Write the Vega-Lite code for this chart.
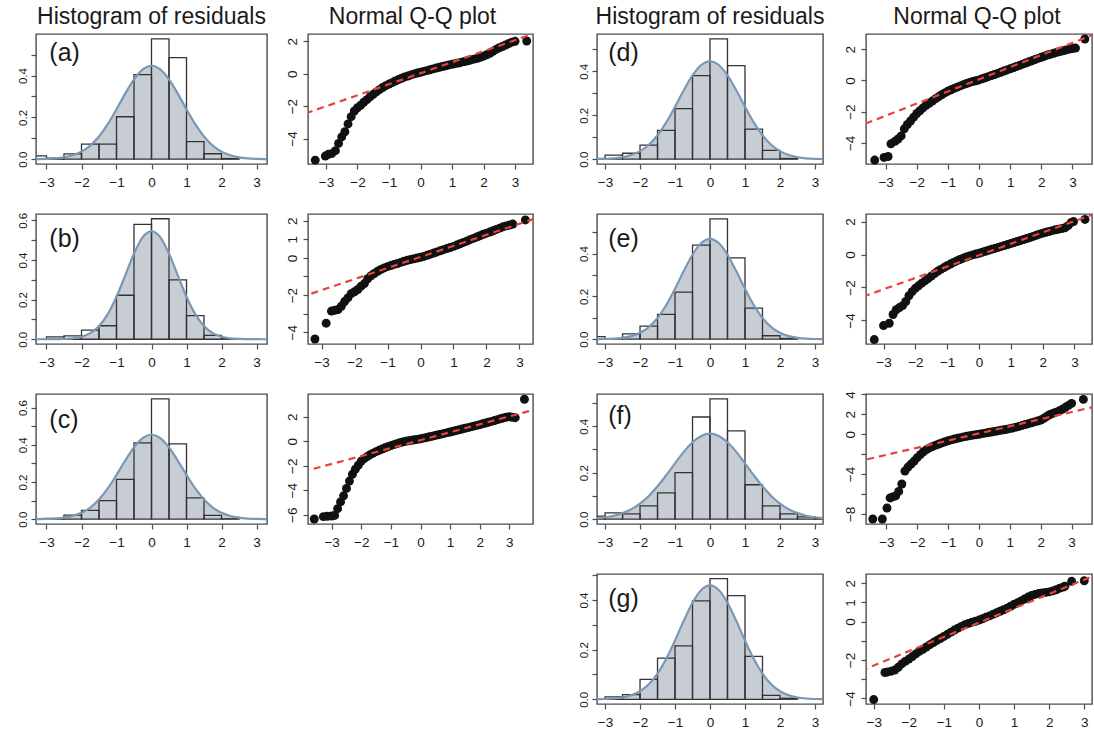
{
"$schema": "https://vega.github.io/schema/vega-lite/v6.json",
"background": "white",
"padding": {"left": 15, "top": 5, "right": 0, "bottom": 0},
"spacing": 10,
"datasets": {
"ca": [{"x":-3.5,"y":0.0002},{"x":-3.25,"y":0.0006},{"x":-3,"y":0.0016},{"x":-2.75,"y":0.0039},{"x":-2.5,"y":0.0088},{"x":-2.25,"y":0.0186},{"x":-2,"y":0.0362},{"x":-1.75,"y":0.0653},{"x":-1.5,"y":0.1087},{"x":-1.25,"y":0.1674},{"x":-1,"y":0.2385},{"x":-0.75,"y":0.3139},{"x":-0.5,"y":0.382},{"x":-0.25,"y":0.4298},{"x":0,"y":0.447},{"x":0.25,"y":0.4298},{"x":0.5,"y":0.382},{"x":0.75,"y":0.3139},{"x":1,"y":0.2385},{"x":1.25,"y":0.1674},{"x":1.5,"y":0.1087},{"x":1.75,"y":0.0653},{"x":2,"y":0.0362},{"x":2.25,"y":0.0186},{"x":2.5,"y":0.0088},{"x":2.75,"y":0.0039},{"x":3,"y":0.0016},{"x":3.25,"y":0.0006},{"x":3.5,"y":0.0002}],
"cb": [{"x":-3.5,"y":0},{"x":-3.25,"y":0},{"x":-3,"y":0.0001},{"x":-2.75,"y":0.0005},{"x":-2.5,"y":0.0016},{"x":-2.25,"y":0.0048},{"x":-2,"y":0.0129},{"x":-1.75,"y":0.0311},{"x":-1.5,"y":0.0665},{"x":-1.25,"y":0.1266},{"x":-1,"y":0.2142},{"x":-0.75,"y":0.3226},{"x":-0.5,"y":0.4321},{"x":-0.25,"y":0.515},{"x":0,"y":0.546},{"x":0.25,"y":0.515},{"x":0.5,"y":0.4321},{"x":0.75,"y":0.3226},{"x":1,"y":0.2142},{"x":1.25,"y":0.1266},{"x":1.5,"y":0.0665},{"x":1.75,"y":0.0311},{"x":2,"y":0.0129},{"x":2.25,"y":0.0048},{"x":2.5,"y":0.0016},{"x":2.75,"y":0.0005},{"x":3,"y":0.0001},{"x":3.25,"y":0},{"x":3.5,"y":0}],
"cc": [{"x":-3.5,"y":0.0002},{"x":-3.25,"y":0.0005},{"x":-3,"y":0.0013},{"x":-2.75,"y":0.0034},{"x":-2.5,"y":0.0079},{"x":-2.25,"y":0.0171},{"x":-2,"y":0.0341},{"x":-1.75,"y":0.0626},{"x":-1.5,"y":0.1058},{"x":-1.25,"y":0.1651},{"x":-1,"y":0.2377},{"x":-0.75,"y":0.3154},{"x":-0.5,"y":0.3862},{"x":-0.25,"y":0.436},{"x":0,"y":0.454},{"x":0.25,"y":0.436},{"x":0.5,"y":0.3862},{"x":0.75,"y":0.3154},{"x":1,"y":0.2377},{"x":1.25,"y":0.1651},{"x":1.5,"y":0.1058},{"x":1.75,"y":0.0626},{"x":2,"y":0.0341},{"x":2.25,"y":0.0171},{"x":2.5,"y":0.0079},{"x":2.75,"y":0.0034},{"x":3,"y":0.0013},{"x":3.25,"y":0.0005},{"x":3.5,"y":0.0002}],
"cd": [{"x":-3.5,"y":0.0002},{"x":-3.25,"y":0.0006},{"x":-3,"y":0.0016},{"x":-2.75,"y":0.0039},{"x":-2.5,"y":0.0089},{"x":-2.25,"y":0.0188},{"x":-2,"y":0.0365},{"x":-1.75,"y":0.0657},{"x":-1.5,"y":0.1091},{"x":-1.25,"y":0.1678},{"x":-1,"y":0.2386},{"x":-0.75,"y":0.3137},{"x":-0.5,"y":0.3814},{"x":-0.25,"y":0.4289},{"x":0,"y":0.446},{"x":0.25,"y":0.4289},{"x":0.5,"y":0.3814},{"x":0.75,"y":0.3137},{"x":1,"y":0.2386},{"x":1.25,"y":0.1678},{"x":1.5,"y":0.1091},{"x":1.75,"y":0.0657},{"x":2,"y":0.0365},{"x":2.25,"y":0.0188},{"x":2.5,"y":0.0089},{"x":2.75,"y":0.0039},{"x":3,"y":0.0016},{"x":3.25,"y":0.0006},{"x":3.5,"y":0.0002}],
"ce": [{"x":-3.5,"y":0.0001},{"x":-3.25,"y":0.0003},{"x":-3,"y":0.0009},{"x":-2.75,"y":0.0025},{"x":-2.5,"y":0.0063},{"x":-2.25,"y":0.0142},{"x":-2,"y":0.0296},{"x":-1.75,"y":0.0566},{"x":-1.5,"y":0.0992},{"x":-1.25,"y":0.1595},{"x":-1,"y":0.2352},{"x":-0.75,"y":0.3181},{"x":-0.5,"y":0.3947},{"x":-0.25,"y":0.4492},{"x":0,"y":0.469},{"x":0.25,"y":0.4492},{"x":0.5,"y":0.3947},{"x":0.75,"y":0.3181},{"x":1,"y":0.2352},{"x":1.25,"y":0.1595},{"x":1.5,"y":0.0992},{"x":1.75,"y":0.0566},{"x":2,"y":0.0296},{"x":2.25,"y":0.0142},{"x":2.5,"y":0.0063},{"x":2.75,"y":0.0025},{"x":3,"y":0.0009},{"x":3.25,"y":0.0003},{"x":3.5,"y":0.0001}],
"cf": [{"x":-3.5,"y":0.002},{"x":-3.25,"y":0.0041},{"x":-3,"y":0.008},{"x":-2.75,"y":0.0147},{"x":-2.5,"y":0.0258},{"x":-2.25,"y":0.0427},{"x":-2,"y":0.0671},{"x":-1.75,"y":0.1},{"x":-1.5,"y":0.1413},{"x":-1.25,"y":0.1893},{"x":-1,"y":0.2405},{"x":-0.75,"y":0.2897},{"x":-0.5,"y":0.3309},{"x":-0.25,"y":0.3584},{"x":0,"y":0.368},{"x":0.25,"y":0.3584},{"x":0.5,"y":0.3309},{"x":0.75,"y":0.2897},{"x":1,"y":0.2405},{"x":1.25,"y":0.1893},{"x":1.5,"y":0.1413},{"x":1.75,"y":0.1},{"x":2,"y":0.0671},{"x":2.25,"y":0.0427},{"x":2.5,"y":0.0258},{"x":2.75,"y":0.0147},{"x":3,"y":0.008},{"x":3.25,"y":0.0041},{"x":3.5,"y":0.002}],
"cg": [{"x":-3.5,"y":0.0001},{"x":-3.25,"y":0.0004},{"x":-3,"y":0.0012},{"x":-2.75,"y":0.0031},{"x":-2.5,"y":0.0073},{"x":-2.25,"y":0.0161},{"x":-2,"y":0.0325},{"x":-1.75,"y":0.0604},{"x":-1.5,"y":0.1035},{"x":-1.25,"y":0.1631},{"x":-1,"y":0.2368},{"x":-0.75,"y":0.3163},{"x":-0.5,"y":0.389},{"x":-0.25,"y":0.4404},{"x":0,"y":0.459},{"x":0.25,"y":0.4404},{"x":0.5,"y":0.389},{"x":0.75,"y":0.3163},{"x":1,"y":0.2368},{"x":1.25,"y":0.1631},{"x":1.5,"y":0.1035},{"x":1.75,"y":0.0604},{"x":2,"y":0.0325},{"x":2.25,"y":0.0161},{"x":2.5,"y":0.0073},{"x":2.75,"y":0.0031},{"x":3,"y":0.0012},{"x":3.25,"y":0.0004},{"x":3.5,"y":0.0001}],
"ha": [{"x":-3.5,"x2":-3,"y":0.016},{"x":-3,"x2":-2.5,"y":0.005},{"x":-2.5,"x2":-2,"y":0.025},{"x":-2,"x2":-1.5,"y":0.072},{"x":-1.5,"x2":-1,"y":0.072},{"x":-1,"x2":-0.5,"y":0.203},{"x":-0.5,"x2":0,"y":0.405},{"x":0,"x2":0.5,"y":0.576},{"x":0.5,"x2":1,"y":0.486},{"x":1,"x2":1.5,"y":0.084},{"x":1.5,"x2":2,"y":0.026},{"x":2,"x2":2.5,"y":0.003}],
"hb": [{"x":-3,"x2":-2.5,"y":0.012},{"x":-2.5,"x2":-2,"y":0.017},{"x":-2,"x2":-1.5,"y":0.046},{"x":-1.5,"x2":-1,"y":0.068},{"x":-1,"x2":-0.5,"y":0.222},{"x":-0.5,"x2":0,"y":0.58},{"x":0,"x2":0.5,"y":0.608},{"x":0.5,"x2":1,"y":0.3},{"x":1,"x2":1.5,"y":0.119},{"x":1.5,"x2":2,"y":0.02},{"x":2,"x2":2.5,"y":0.003}],
"hc": [{"x":-3.5,"x2":-3,"y":0.003},{"x":-3,"x2":-2.5,"y":0.004},{"x":-2.5,"x2":-2,"y":0.022},{"x":-2,"x2":-1.5,"y":0.047},{"x":-1.5,"x2":-1,"y":0.1},{"x":-1,"x2":-0.5,"y":0.214},{"x":-0.5,"x2":0,"y":0.41},{"x":0,"x2":0.5,"y":0.647},{"x":0.5,"x2":1,"y":0.405},{"x":1,"x2":1.5,"y":0.115},{"x":1.5,"x2":2,"y":0.02},{"x":2,"x2":2.5,"y":0.002}],
"hd": [{"x":-3.5,"x2":-3,"y":0.003},{"x":-3,"x2":-2.5,"y":0.018},{"x":-2.5,"x2":-2,"y":0.027},{"x":-2,"x2":-1.5,"y":0.064},{"x":-1.5,"x2":-1,"y":0.131},{"x":-1,"x2":-0.5,"y":0.23},{"x":-0.5,"x2":0,"y":0.38},{"x":0,"x2":0.5,"y":0.548},{"x":0.5,"x2":1,"y":0.426},{"x":1,"x2":1.5,"y":0.137},{"x":1.5,"x2":2,"y":0.04},{"x":2,"x2":2.5,"y":0.003}],
"he": [{"x":-3.5,"x2":-3,"y":0.012},{"x":-3,"x2":-2.5,"y":0.003},{"x":-2.5,"x2":-2,"y":0.025},{"x":-2,"x2":-1.5,"y":0.061},{"x":-1.5,"x2":-1,"y":0.116},{"x":-1,"x2":-0.5,"y":0.22},{"x":-0.5,"x2":0,"y":0.44},{"x":0,"x2":0.5,"y":0.5625},{"x":0.5,"x2":1,"y":0.38},{"x":1,"x2":1.5,"y":0.145},{"x":1.5,"x2":2,"y":0.016},{"x":2,"x2":2.5,"y":0.003}],
"hf": [{"x":-3.5,"x2":-3,"y":0.013},{"x":-3,"x2":-2.5,"y":0.027},{"x":-2.5,"x2":-2,"y":0.023},{"x":-2,"x2":-1.5,"y":0.057},{"x":-1.5,"x2":-1,"y":0.113},{"x":-1,"x2":-0.5,"y":0.2},{"x":-0.5,"x2":0,"y":0.44},{"x":0,"x2":0.5,"y":0.518},{"x":0.5,"x2":1,"y":0.38},{"x":1,"x2":1.5,"y":0.148},{"x":1.5,"x2":2,"y":0.057},{"x":2,"x2":2.5,"y":0.023},{"x":2.5,"x2":3,"y":0.01},{"x":3,"x2":3.5,"y":0.004}],
"hg": [{"x":-3,"x2":-2.5,"y":0.01},{"x":-2.5,"x2":-2,"y":0.019},{"x":-2,"x2":-1.5,"y":0.08},{"x":-1.5,"x2":-1,"y":0.166},{"x":-1,"x2":-0.5,"y":0.215},{"x":-0.5,"x2":0,"y":0.397},{"x":0,"x2":0.5,"y":0.486},{"x":0.5,"x2":1,"y":0.418},{"x":1,"x2":1.5,"y":0.173},{"x":1.5,"x2":2,"y":0.016},{"x":2,"x2":2.5,"y":0.004}],
"qa": [{"x":-3.34,"y":-5.33},{"x":-3.02,"y":-5.08},{"x":-2.92,"y":-4.97},{"x":-2.82,"y":-4.93},{"x":-2.7,"y":-4.75},{"x":-2.6,"y":-4.3},{"x":-2.5,"y":-3.9},{"x":-2.4,"y":-3.58},{"x":-2.3,"y":-3.1},{"x":-2.2,"y":-2.65},{"x":-2.1,"y":-2.3},{"x":-2.0,"y":-2.1},{"x":-1.9,"y":-1.95},{"x":-1.8,"y":-1.76},{"x":-1.7,"y":-1.6},{"x":-1.6,"y":-1.42},{"x":-1.5,"y":-1.27},{"x":-1.4,"y":-1.12},{"x":-1.3,"y":-0.98},{"x":-1.2,"y":-0.85},{"x":-1.1,"y":-0.74},{"x":-1.0,"y":-0.64},{"x":-0.9,"y":-0.55},{"x":-0.8,"y":-0.45},{"x":-0.7,"y":-0.36},{"x":-0.6,"y":-0.28},{"x":-0.5,"y":-0.2},{"x":-0.4,"y":-0.14},{"x":-0.3,"y":-0.07},{"x":-0.2,"y":-0.01},{"x":-0.1,"y":0.04},{"x":0,"y":0.09},{"x":0.1,"y":0.14},{"x":0.2,"y":0.19},{"x":0.3,"y":0.24},{"x":0.4,"y":0.3},{"x":0.5,"y":0.35},{"x":0.6,"y":0.4},{"x":0.7,"y":0.44},{"x":0.8,"y":0.49},{"x":0.9,"y":0.54},{"x":1.0,"y":0.58},{"x":1.1,"y":0.62},{"x":1.2,"y":0.66},{"x":1.3,"y":0.71},{"x":1.4,"y":0.75},{"x":1.5,"y":0.8},{"x":1.6,"y":0.85},{"x":1.7,"y":0.9},{"x":1.8,"y":0.95},{"x":1.9,"y":1.01},{"x":2.0,"y":1.08},{"x":2.1,"y":1.17},{"x":2.2,"y":1.26},{"x":2.3,"y":1.38},{"x":2.4,"y":1.5},{"x":2.5,"y":1.6},{"x":2.6,"y":1.68},{"x":2.7,"y":1.77},{"x":2.8,"y":1.86},{"x":2.9,"y":1.95},{"x":3.0,"y":2.0},{"x":3.37,"y":2.02}],
"qb": [{"x":-3.2,"y":-4.36},{"x":-2.86,"y":-3.51},{"x":-2.7,"y":-2.86},{"x":-2.6,"y":-2.82},{"x":-2.5,"y":-2.78},{"x":-2.4,"y":-2.6},{"x":-2.3,"y":-2.35},{"x":-2.2,"y":-2.15},{"x":-2.1,"y":-1.92},{"x":-2.0,"y":-1.82},{"x":-1.9,"y":-1.7},{"x":-1.8,"y":-1.52},{"x":-1.7,"y":-1.38},{"x":-1.6,"y":-1.12},{"x":-1.5,"y":-0.96},{"x":-1.4,"y":-0.84},{"x":-1.3,"y":-0.72},{"x":-1.2,"y":-0.62},{"x":-1.1,"y":-0.54},{"x":-1.0,"y":-0.47},{"x":-0.9,"y":-0.41},{"x":-0.8,"y":-0.35},{"x":-0.7,"y":-0.3},{"x":-0.6,"y":-0.24},{"x":-0.5,"y":-0.18},{"x":-0.4,"y":-0.13},{"x":-0.3,"y":-0.09},{"x":-0.2,"y":-0.05},{"x":-0.1,"y":-0.01},{"x":0,"y":0.03},{"x":0.1,"y":0.08},{"x":0.2,"y":0.14},{"x":0.3,"y":0.2},{"x":0.4,"y":0.26},{"x":0.5,"y":0.32},{"x":0.6,"y":0.38},{"x":0.7,"y":0.44},{"x":0.8,"y":0.5},{"x":0.9,"y":0.56},{"x":1.0,"y":0.62},{"x":1.1,"y":0.69},{"x":1.2,"y":0.76},{"x":1.3,"y":0.83},{"x":1.4,"y":0.9},{"x":1.5,"y":0.98},{"x":1.6,"y":1.05},{"x":1.7,"y":1.12},{"x":1.8,"y":1.19},{"x":1.9,"y":1.27},{"x":2.0,"y":1.33},{"x":2.1,"y":1.39},{"x":2.2,"y":1.46},{"x":2.3,"y":1.53},{"x":2.4,"y":1.6},{"x":2.5,"y":1.67},{"x":2.6,"y":1.72},{"x":2.7,"y":1.77},{"x":2.8,"y":1.82},{"x":3.18,"y":2.04}],
"qc": [{"x":-3.59,"y":-6.34},{"x":-3.28,"y":-6.15},{"x":-3.15,"y":-6.12},{"x":-3.0,"y":-6.1},{"x":-2.9,"y":-6.05},{"x":-2.8,"y":-5.5},{"x":-2.7,"y":-4.95},{"x":-2.6,"y":-4.45},{"x":-2.5,"y":-3.85},{"x":-2.4,"y":-3.25},{"x":-2.3,"y":-2.7},{"x":-2.2,"y":-2.28},{"x":-2.1,"y":-1.95},{"x":-2.0,"y":-1.62},{"x":-1.9,"y":-1.42},{"x":-1.8,"y":-1.25},{"x":-1.7,"y":-1.1},{"x":-1.6,"y":-0.97},{"x":-1.5,"y":-0.85},{"x":-1.4,"y":-0.74},{"x":-1.3,"y":-0.64},{"x":-1.2,"y":-0.54},{"x":-1.1,"y":-0.45},{"x":-1.0,"y":-0.36},{"x":-0.9,"y":-0.28},{"x":-0.8,"y":-0.2},{"x":-0.7,"y":-0.13},{"x":-0.6,"y":-0.06},{"x":-0.5,"y":0.0},{"x":-0.4,"y":0.04},{"x":-0.3,"y":0.08},{"x":-0.2,"y":0.12},{"x":-0.1,"y":0.15},{"x":0,"y":0.2},{"x":0.1,"y":0.25},{"x":0.2,"y":0.3},{"x":0.3,"y":0.36},{"x":0.4,"y":0.41},{"x":0.5,"y":0.47},{"x":0.6,"y":0.53},{"x":0.7,"y":0.58},{"x":0.8,"y":0.64},{"x":0.9,"y":0.7},{"x":1.0,"y":0.75},{"x":1.1,"y":0.81},{"x":1.2,"y":0.87},{"x":1.3,"y":0.93},{"x":1.4,"y":0.99},{"x":1.5,"y":1.05},{"x":1.6,"y":1.11},{"x":1.7,"y":1.17},{"x":1.8,"y":1.23},{"x":1.9,"y":1.29},{"x":2.0,"y":1.35},{"x":2.1,"y":1.42},{"x":2.2,"y":1.48},{"x":2.3,"y":1.55},{"x":2.4,"y":1.62},{"x":2.5,"y":1.69},{"x":2.6,"y":1.76},{"x":2.7,"y":1.83},{"x":2.8,"y":1.9},{"x":2.9,"y":1.96},{"x":3.0,"y":2.0},{"x":3.1,"y":1.95},{"x":3.2,"y":1.92},{"x":3.51,"y":3.42}],
"qd": [{"x":-3.35,"y":-5.1},{"x":-3.05,"y":-4.93},{"x":-2.92,"y":-4.87},{"x":-2.83,"y":-4.06},{"x":-2.7,"y":-3.9},{"x":-2.6,"y":-3.75},{"x":-2.5,"y":-3.55},{"x":-2.4,"y":-3.1},{"x":-2.3,"y":-2.82},{"x":-2.2,"y":-2.6},{"x":-2.1,"y":-2.35},{"x":-2.0,"y":-2.12},{"x":-1.9,"y":-1.94},{"x":-1.8,"y":-1.76},{"x":-1.7,"y":-1.6},{"x":-1.6,"y":-1.46},{"x":-1.5,"y":-1.32},{"x":-1.4,"y":-1.18},{"x":-1.3,"y":-1.05},{"x":-1.2,"y":-0.92},{"x":-1.1,"y":-0.8},{"x":-1.0,"y":-0.69},{"x":-0.9,"y":-0.6},{"x":-0.8,"y":-0.51},{"x":-0.7,"y":-0.43},{"x":-0.6,"y":-0.35},{"x":-0.5,"y":-0.27},{"x":-0.4,"y":-0.2},{"x":-0.3,"y":-0.13},{"x":-0.2,"y":-0.07},{"x":-0.1,"y":-0.02},{"x":0,"y":0.03},{"x":0.1,"y":0.1},{"x":0.2,"y":0.17},{"x":0.3,"y":0.24},{"x":0.4,"y":0.31},{"x":0.5,"y":0.38},{"x":0.6,"y":0.45},{"x":0.7,"y":0.52},{"x":0.8,"y":0.6},{"x":0.9,"y":0.67},{"x":1.0,"y":0.74},{"x":1.1,"y":0.81},{"x":1.2,"y":0.89},{"x":1.3,"y":0.96},{"x":1.4,"y":1.04},{"x":1.5,"y":1.11},{"x":1.6,"y":1.19},{"x":1.7,"y":1.26},{"x":1.8,"y":1.34},{"x":1.9,"y":1.41},{"x":2.0,"y":1.48},{"x":2.1,"y":1.55},{"x":2.2,"y":1.62},{"x":2.3,"y":1.68},{"x":2.4,"y":1.74},{"x":2.5,"y":1.8},{"x":2.6,"y":1.85},{"x":2.7,"y":1.9},{"x":2.8,"y":1.95},{"x":2.9,"y":2.0},{"x":3.0,"y":2.04},{"x":3.1,"y":2.07},{"x":3.4,"y":2.65}],
"qe": [{"x":-3.29,"y":-5.16},{"x":-3.0,"y":-4.31},{"x":-2.82,"y":-4.17},{"x":-2.7,"y":-3.64},{"x":-2.6,"y":-3.35},{"x":-2.5,"y":-3.22},{"x":-2.4,"y":-3.1},{"x":-2.3,"y":-2.85},{"x":-2.2,"y":-2.5},{"x":-2.1,"y":-2.25},{"x":-2.0,"y":-2.05},{"x":-1.9,"y":-1.9},{"x":-1.8,"y":-1.74},{"x":-1.7,"y":-1.6},{"x":-1.6,"y":-1.46},{"x":-1.5,"y":-1.31},{"x":-1.4,"y":-1.16},{"x":-1.3,"y":-1.02},{"x":-1.2,"y":-0.9},{"x":-1.1,"y":-0.79},{"x":-1.0,"y":-0.68},{"x":-0.9,"y":-0.58},{"x":-0.8,"y":-0.48},{"x":-0.7,"y":-0.39},{"x":-0.6,"y":-0.3},{"x":-0.5,"y":-0.22},{"x":-0.4,"y":-0.15},{"x":-0.3,"y":-0.08},{"x":-0.2,"y":-0.02},{"x":-0.1,"y":0.03},{"x":0,"y":0.08},{"x":0.1,"y":0.14},{"x":0.2,"y":0.2},{"x":0.3,"y":0.26},{"x":0.4,"y":0.32},{"x":0.5,"y":0.37},{"x":0.6,"y":0.43},{"x":0.7,"y":0.49},{"x":0.8,"y":0.55},{"x":0.9,"y":0.61},{"x":1.0,"y":0.67},{"x":1.1,"y":0.73},{"x":1.2,"y":0.79},{"x":1.3,"y":0.85},{"x":1.4,"y":0.91},{"x":1.5,"y":0.97},{"x":1.6,"y":1.03},{"x":1.7,"y":1.1},{"x":1.8,"y":1.17},{"x":1.9,"y":1.24},{"x":2.0,"y":1.3},{"x":2.1,"y":1.35},{"x":2.2,"y":1.4},{"x":2.3,"y":1.45},{"x":2.4,"y":1.5},{"x":2.5,"y":1.54},{"x":2.6,"y":1.58},{"x":2.7,"y":1.62},{"x":2.8,"y":1.75},{"x":2.9,"y":1.95},{"x":2.97,"y":2.0},{"x":3.33,"y":2.13}],
"qf": [{"x":-3.44,"y":-8.52},{"x":-3.13,"y":-8.52},{"x":-2.98,"y":-7.41},{"x":-2.88,"y":-6.4},{"x":-2.8,"y":-6.3},{"x":-2.7,"y":-6.2},{"x":-2.6,"y":-5.75},{"x":-2.5,"y":-5.0},{"x":-2.4,"y":-3.7},{"x":-2.3,"y":-3.3},{"x":-2.2,"y":-3.0},{"x":-2.1,"y":-2.7},{"x":-2.0,"y":-2.35},{"x":-1.9,"y":-2.05},{"x":-1.8,"y":-1.76},{"x":-1.7,"y":-1.55},{"x":-1.6,"y":-1.38},{"x":-1.5,"y":-1.23},{"x":-1.4,"y":-1.1},{"x":-1.3,"y":-0.98},{"x":-1.2,"y":-0.87},{"x":-1.1,"y":-0.76},{"x":-1.0,"y":-0.66},{"x":-0.9,"y":-0.57},{"x":-0.8,"y":-0.49},{"x":-0.7,"y":-0.41},{"x":-0.6,"y":-0.34},{"x":-0.5,"y":-0.27},{"x":-0.4,"y":-0.21},{"x":-0.3,"y":-0.15},{"x":-0.2,"y":-0.1},{"x":-0.1,"y":-0.05},{"x":0,"y":0.0},{"x":0.1,"y":0.06},{"x":0.2,"y":0.11},{"x":0.3,"y":0.17},{"x":0.4,"y":0.22},{"x":0.5,"y":0.28},{"x":0.6,"y":0.33},{"x":0.7,"y":0.39},{"x":0.8,"y":0.44},{"x":0.9,"y":0.5},{"x":1.0,"y":0.56},{"x":1.1,"y":0.63},{"x":1.2,"y":0.71},{"x":1.3,"y":0.79},{"x":1.4,"y":0.88},{"x":1.5,"y":0.97},{"x":1.6,"y":1.06},{"x":1.7,"y":1.15},{"x":1.8,"y":1.24},{"x":1.9,"y":1.33},{"x":2.0,"y":1.43},{"x":2.1,"y":1.6},{"x":2.2,"y":1.8},{"x":2.3,"y":1.98},{"x":2.4,"y":2.1},{"x":2.5,"y":2.22},{"x":2.6,"y":2.35},{"x":2.7,"y":2.5},{"x":2.8,"y":2.7},{"x":2.9,"y":2.9},{"x":3.0,"y":3.1},{"x":3.38,"y":3.5}],
"qg": [{"x":-3.0,"y":-4.06},{"x":-2.68,"y":-2.65},{"x":-2.6,"y":-2.62},{"x":-2.5,"y":-2.58},{"x":-2.4,"y":-2.52},{"x":-2.3,"y":-2.38},{"x":-2.2,"y":-2.2},{"x":-2.1,"y":-2.07},{"x":-2.0,"y":-1.95},{"x":-1.9,"y":-1.82},{"x":-1.8,"y":-1.68},{"x":-1.7,"y":-1.55},{"x":-1.6,"y":-1.44},{"x":-1.5,"y":-1.32},{"x":-1.4,"y":-1.2},{"x":-1.3,"y":-1.09},{"x":-1.2,"y":-0.98},{"x":-1.1,"y":-0.88},{"x":-1.0,"y":-0.77},{"x":-0.9,"y":-0.66},{"x":-0.8,"y":-0.55},{"x":-0.7,"y":-0.44},{"x":-0.6,"y":-0.34},{"x":-0.5,"y":-0.25},{"x":-0.4,"y":-0.16},{"x":-0.3,"y":-0.09},{"x":-0.2,"y":-0.03},{"x":-0.1,"y":0.02},{"x":0,"y":0.08},{"x":0.1,"y":0.15},{"x":0.2,"y":0.23},{"x":0.3,"y":0.3},{"x":0.4,"y":0.38},{"x":0.5,"y":0.46},{"x":0.6,"y":0.54},{"x":0.7,"y":0.62},{"x":0.8,"y":0.7},{"x":0.9,"y":0.8},{"x":1.0,"y":0.9},{"x":1.1,"y":0.98},{"x":1.2,"y":1.08},{"x":1.3,"y":1.18},{"x":1.4,"y":1.28},{"x":1.5,"y":1.36},{"x":1.6,"y":1.42},{"x":1.7,"y":1.46},{"x":1.8,"y":1.49},{"x":1.9,"y":1.52},{"x":2.0,"y":1.55},{"x":2.1,"y":1.6},{"x":2.2,"y":1.66},{"x":2.3,"y":1.74},{"x":2.4,"y":1.8},{"x":2.45,"y":1.85},{"x":2.64,"y":2.1},{"x":3.0,"y":2.13}]
},
"hconcat": [
{"bounds": "flush", "spacing": 50, "vconcat": [
{"width": 231, "height": 130, "title": "Histogram of residuals",
"encoding": {"x": {"field": "x", "type": "quantitative", "scale": {"domain": [-3.3, 3.3], "nice": false, "zero": false}, "axis": {"title": null, "values": [-3,-2,-1,0,1,2,3]}},
"y": {"field": "y", "type": "quantitative", "scale": {"domain": [-0.023, 0.599], "nice": false, "zero": false}, "axis": {"title": null, "values": [0,0.1,0.2,0.3,0.4,0.5,0.6], "labelExpr": "round(datum.value*10)%2==0 ? format(datum.value,'.1f') : ''", "labelFontSize": 11.5, "labelPadding": 3, "minExtent": 20, "maxExtent": 20}}},
"layer": [
{"data": {"name": "ca"}, "mark": {"type": "area", "interpolate": "monotone", "color": "#c7ccd5", "clip": true}, "encoding": {"y2": {"datum": 0}}},
{"data": {"name": "ha"}, "mark": {"type": "rect", "fillOpacity": 0, "stroke": "#333333", "strokeWidth": 1.3, "clip": true}, "encoding": {"x2": {"field": "x2"}, "y2": {"datum": 0}}},
{"data": {"name": "ca"}, "mark": {"type": "line", "interpolate": "monotone", "color": "#7a98b6", "strokeWidth": 2.2, "clip": true}, "encoding": {}},
{"data": {"values": [{"x": -2.92, "y": 0.51, "t": "(a)"}]}, "mark": {"type": "text", "align": "left", "baseline": "middle", "fontSize": 25, "font": "Liberation Sans", "color": "#1a1a1a"}, "encoding": {"text": {"field": "t"}}}
]},
{"width": 231, "height": 130,
"encoding": {"x": {"field": "x", "type": "quantitative", "scale": {"domain": [-3.3, 3.3], "nice": false, "zero": false}, "axis": {"title": null, "values": [-3,-2,-1,0,1,2,3]}},
"y": {"field": "y", "type": "quantitative", "scale": {"domain": [-0.024, 0.632], "nice": false, "zero": false}, "axis": {"title": null, "values": [0,0.1,0.2,0.3,0.4,0.5,0.6], "labelExpr": "round(datum.value*10)%2==0 ? format(datum.value,'.1f') : ''", "labelFontSize": 11.5, "labelPadding": 3, "minExtent": 20, "maxExtent": 20}}},
"layer": [
{"data": {"name": "cb"}, "mark": {"type": "area", "interpolate": "monotone", "color": "#c7ccd5", "clip": true}, "encoding": {"y2": {"datum": 0}}},
{"data": {"name": "hb"}, "mark": {"type": "rect", "fillOpacity": 0, "stroke": "#333333", "strokeWidth": 1.3, "clip": true}, "encoding": {"x2": {"field": "x2"}, "y2": {"datum": 0}}},
{"data": {"name": "cb"}, "mark": {"type": "line", "interpolate": "monotone", "color": "#7a98b6", "strokeWidth": 2.2, "clip": true}, "encoding": {}},
{"data": {"values": [{"x": -2.92, "y": 0.507, "t": "(b)"}]}, "mark": {"type": "text", "align": "left", "baseline": "middle", "fontSize": 25, "font": "Liberation Sans", "color": "#1a1a1a"}, "encoding": {"text": {"field": "t"}}}
]},
{"width": 231, "height": 130,
"encoding": {"x": {"field": "x", "type": "quantitative", "scale": {"domain": [-3.3, 3.3], "nice": false, "zero": false}, "axis": {"title": null, "values": [-3,-2,-1,0,1,2,3]}},
"y": {"field": "y", "type": "quantitative", "scale": {"domain": [-0.026, 0.673], "nice": false, "zero": false}, "axis": {"title": null, "values": [0,0.1,0.2,0.3,0.4,0.5,0.6], "labelExpr": "round(datum.value*10)%2==0 ? format(datum.value,'.1f') : ''", "labelFontSize": 11.5, "labelPadding": 3, "minExtent": 20, "maxExtent": 20}}},
"layer": [
{"data": {"name": "cc"}, "mark": {"type": "area", "interpolate": "monotone", "color": "#c7ccd5", "clip": true}, "encoding": {"y2": {"datum": 0}}},
{"data": {"name": "hc"}, "mark": {"type": "rect", "fillOpacity": 0, "stroke": "#333333", "strokeWidth": 1.3, "clip": true}, "encoding": {"x2": {"field": "x2"}, "y2": {"datum": 0}}},
{"data": {"name": "cc"}, "mark": {"type": "line", "interpolate": "monotone", "color": "#7a98b6", "strokeWidth": 2.2, "clip": true}, "encoding": {}},
{"data": {"values": [{"x": -2.92, "y": 0.535, "t": "(c)"}]}, "mark": {"type": "text", "align": "left", "baseline": "middle", "fontSize": 25, "font": "Liberation Sans", "color": "#1a1a1a"}, "encoding": {"text": {"field": "t"}}}
]}
]},
{"bounds": "flush", "spacing": 50, "vconcat": [
{"width": 225, "height": 130, "title": {"text": "Normal Q-Q plot", "dx": -8},
"encoding": {"x": {"field": "x", "type": "quantitative", "scale": {"domain": [-3.57, 3.57], "nice": false, "zero": false}, "axis": {"title": null, "values": [-3,-2,-1,0,1,2,3]}},
"y": {"field": "y", "type": "quantitative", "scale": {"domain": [-5.57, 2.45], "nice": false, "zero": false}, "axis": {"title": null, "values": [-4,-2,0,2], "minExtent": 28.5, "maxExtent": 28.5}}},
"layer": [
{"data": {"name": "qa"}, "mark": {"type": "circle", "size": 80, "color": "#111111", "opacity": 1}},
{"data": {"values": [{"x": -4, "y": -2.69}, {"x": 4, "y": 2.75}]}, "mark": {"type": "line", "color": "#e8423c", "strokeDash": [7, 5], "strokeWidth": 2.2, "clip": true}, "encoding": {}}
]},
{"width": 225, "height": 130,
"encoding": {"x": {"field": "x", "type": "quantitative", "scale": {"domain": [-3.41, 3.41], "nice": false, "zero": false}, "axis": {"title": null, "values": [-3,-2,-1,0,1,2,3]}},
"y": {"field": "y", "type": "quantitative", "scale": {"domain": [-4.63, 2.36], "nice": false, "zero": false}, "axis": {"title": null, "values": [-4,-3,-2,-1,0,1,2], "labelExpr": "datum.value==-3 || datum.value==-1 ? '' : datum.label", "minExtent": 28.5, "maxExtent": 28.5}}},
"layer": [
{"data": {"name": "qb"}, "mark": {"type": "circle", "size": 80, "color": "#111111", "opacity": 1}},
{"data": {"values": [{"x": -4, "y": -2.33}, {"x": 4, "y": 2.43}]}, "mark": {"type": "line", "color": "#e8423c", "strokeDash": [7, 5], "strokeWidth": 2.2, "clip": true}, "encoding": {}}
]},
{"width": 225, "height": 130,
"encoding": {"x": {"field": "x", "type": "quantitative", "scale": {"domain": [-3.8, 3.8], "nice": false, "zero": false}, "axis": {"title": null, "values": [-3,-2,-1,0,1,2,3]}},
"y": {"field": "y", "type": "quantitative", "scale": {"domain": [-6.75, 3.85], "nice": false, "zero": false}, "axis": {"title": null, "values": [-6,-4,-2,0,2], "minExtent": 28.5, "maxExtent": 28.5}}},
"layer": [
{"data": {"name": "qc"}, "mark": {"type": "circle", "size": 80, "color": "#111111", "opacity": 1}},
{"data": {"values": [{"x": -4, "y": -2.5}, {"x": 4, "y": 2.67}]}, "mark": {"type": "line", "color": "#e8423c", "strokeDash": [7, 5], "strokeWidth": 2.2, "clip": true}, "encoding": {}}
]}
]},
{"bounds": "flush", "spacing": 50, "vconcat": [
{"width": 226, "height": 130, "title": "Histogram of residuals",
"encoding": {"x": {"field": "x", "type": "quantitative", "scale": {"domain": [-3.23, 3.23], "nice": false, "zero": false}, "axis": {"title": null, "values": [-3,-2,-1,0,1,2,3]}},
"y": {"field": "y", "type": "quantitative", "scale": {"domain": [-0.022, 0.57], "nice": false, "zero": false}, "axis": {"title": null, "values": [0,0.1,0.2,0.3,0.4,0.5], "labelExpr": "round(datum.value*10)%2==0 ? format(datum.value,'.1f') : ''", "labelFontSize": 11.5, "labelPadding": 3, "minExtent": 51.5, "maxExtent": 51.5}}},
"layer": [
{"data": {"name": "cd"}, "mark": {"type": "area", "interpolate": "monotone", "color": "#c7ccd5", "clip": true}, "encoding": {"y2": {"datum": 0}}},
{"data": {"name": "hd"}, "mark": {"type": "rect", "fillOpacity": 0, "stroke": "#333333", "strokeWidth": 1.3, "clip": true}, "encoding": {"x2": {"field": "x2"}, "y2": {"datum": 0}}},
{"data": {"name": "cd"}, "mark": {"type": "line", "interpolate": "monotone", "color": "#7a98b6", "strokeWidth": 2.2, "clip": true}, "encoding": {}},
{"data": {"values": [{"x": -2.91, "y": 0.484, "t": "(d)"}]}, "mark": {"type": "text", "align": "left", "baseline": "middle", "fontSize": 25, "font": "Liberation Sans", "color": "#1a1a1a"}, "encoding": {"text": {"field": "t"}}}
]},
{"width": 226, "height": 130,
"encoding": {"x": {"field": "x", "type": "quantitative", "scale": {"domain": [-3.23, 3.23], "nice": false, "zero": false}, "axis": {"title": null, "values": [-3,-2,-1,0,1,2,3]}},
"y": {"field": "y", "type": "quantitative", "scale": {"domain": [-0.0225, 0.585], "nice": false, "zero": false}, "axis": {"title": null, "values": [0,0.1,0.2,0.3,0.4,0.5], "labelExpr": "round(datum.value*10)%2==0 ? format(datum.value,'.1f') : ''", "labelFontSize": 11.5, "labelPadding": 3, "minExtent": 51.5, "maxExtent": 51.5}}},
"layer": [
{"data": {"name": "ce"}, "mark": {"type": "area", "interpolate": "monotone", "color": "#c7ccd5", "clip": true}, "encoding": {"y2": {"datum": 0}}},
{"data": {"name": "he"}, "mark": {"type": "rect", "fillOpacity": 0, "stroke": "#333333", "strokeWidth": 1.3, "clip": true}, "encoding": {"x2": {"field": "x2"}, "y2": {"datum": 0}}},
{"data": {"name": "ce"}, "mark": {"type": "line", "interpolate": "monotone", "color": "#7a98b6", "strokeWidth": 2.2, "clip": true}, "encoding": {}},
{"data": {"values": [{"x": -2.91, "y": 0.469, "t": "(e)"}]}, "mark": {"type": "text", "align": "left", "baseline": "middle", "fontSize": 25, "font": "Liberation Sans", "color": "#1a1a1a"}, "encoding": {"text": {"field": "t"}}}
]},
{"width": 226, "height": 130,
"encoding": {"x": {"field": "x", "type": "quantitative", "scale": {"domain": [-3.23, 3.23], "nice": false, "zero": false}, "axis": {"title": null, "values": [-3,-2,-1,0,1,2,3]}},
"y": {"field": "y", "type": "quantitative", "scale": {"domain": [-0.021, 0.539], "nice": false, "zero": false}, "axis": {"title": null, "values": [0,0.1,0.2,0.3,0.4,0.5], "labelExpr": "round(datum.value*10)%2==0 ? format(datum.value,'.1f') : ''", "labelFontSize": 11.5, "labelPadding": 3, "minExtent": 51.5, "maxExtent": 51.5}}},
"layer": [
{"data": {"name": "cf"}, "mark": {"type": "area", "interpolate": "monotone", "color": "#c7ccd5", "clip": true}, "encoding": {"y2": {"datum": 0}}},
{"data": {"name": "hf"}, "mark": {"type": "rect", "fillOpacity": 0, "stroke": "#333333", "strokeWidth": 1.3, "clip": true}, "encoding": {"x2": {"field": "x2"}, "y2": {"datum": 0}}},
{"data": {"name": "cf"}, "mark": {"type": "line", "interpolate": "monotone", "color": "#7a98b6", "strokeWidth": 2.2, "clip": true}, "encoding": {}},
{"data": {"values": [{"x": -2.91, "y": 0.443, "t": "(f)"}]}, "mark": {"type": "text", "align": "left", "baseline": "middle", "fontSize": 25, "font": "Liberation Sans", "color": "#1a1a1a"}, "encoding": {"text": {"field": "t"}}}
]},
{"width": 226, "height": 130,
"encoding": {"x": {"field": "x", "type": "quantitative", "scale": {"domain": [-3.23, 3.23], "nice": false, "zero": false}, "axis": {"title": null, "values": [-3,-2,-1,0,1,2,3]}},
"y": {"field": "y", "type": "quantitative", "scale": {"domain": [-0.019, 0.505], "nice": false, "zero": false}, "axis": {"title": null, "values": [0,0.1,0.2,0.3,0.4,0.5], "labelExpr": "round(datum.value*10)%2==0 ? format(datum.value,'.1f') : ''", "labelFontSize": 11.5, "labelPadding": 3, "minExtent": 51.5, "maxExtent": 51.5}}},
"layer": [
{"data": {"name": "cg"}, "mark": {"type": "area", "interpolate": "monotone", "color": "#c7ccd5", "clip": true}, "encoding": {"y2": {"datum": 0}}},
{"data": {"name": "hg"}, "mark": {"type": "rect", "fillOpacity": 0, "stroke": "#333333", "strokeWidth": 1.3, "clip": true}, "encoding": {"x2": {"field": "x2"}, "y2": {"datum": 0}}},
{"data": {"name": "cg"}, "mark": {"type": "line", "interpolate": "monotone", "color": "#7a98b6", "strokeWidth": 2.2, "clip": true}, "encoding": {}},
{"data": {"values": [{"x": -2.91, "y": 0.404, "t": "(g)"}]}, "mark": {"type": "text", "align": "left", "baseline": "middle", "fontSize": 25, "font": "Liberation Sans", "color": "#1a1a1a"}, "encoding": {"text": {"field": "t"}}}
]}
]},
{"bounds": "flush", "spacing": 50, "vconcat": [
{"width": 226, "height": 130, "title": {"text": "Normal Q-Q plot", "dx": -2},
"encoding": {"x": {"field": "x", "type": "quantitative", "scale": {"domain": [-3.63, 3.63], "nice": false, "zero": false}, "axis": {"title": null, "values": [-3,-2,-1,0,1,2,3]}},
"y": {"field": "y", "type": "quantitative", "scale": {"domain": [-5.35, 2.97], "nice": false, "zero": false}, "axis": {"title": null, "values": [-4,-2,0,2], "minExtent": 29, "maxExtent": 29}}},
"layer": [
{"data": {"name": "qd"}, "mark": {"type": "circle", "size": 80, "color": "#111111", "opacity": 1}},
{"data": {"values": [{"x": -4, "y": -3.04}, {"x": 4, "y": 3.18}]}, "mark": {"type": "line", "color": "#e8423c", "strokeDash": [7, 5], "strokeWidth": 2.2, "clip": true}, "encoding": {}}
]},
{"width": 226, "height": 130,
"encoding": {"x": {"field": "x", "type": "quantitative", "scale": {"domain": [-3.55, 3.55], "nice": false, "zero": false}, "axis": {"title": null, "values": [-3,-2,-1,0,1,2,3]}},
"y": {"field": "y", "type": "quantitative", "scale": {"domain": [-5.43, 2.46], "nice": false, "zero": false}, "axis": {"title": null, "values": [-4,-2,0,2], "minExtent": 29, "maxExtent": 29}}},
"layer": [
{"data": {"name": "qe"}, "mark": {"type": "circle", "size": 80, "color": "#111111", "opacity": 1}},
{"data": {"values": [{"x": -4, "y": -2.8}, {"x": 4, "y": 2.72}]}, "mark": {"type": "line", "color": "#e8423c", "strokeDash": [7, 5], "strokeWidth": 2.2, "clip": true}, "encoding": {}}
]},
{"width": 226, "height": 130,
"encoding": {"x": {"field": "x", "type": "quantitative", "scale": {"domain": [-3.66, 3.66], "nice": false, "zero": false}, "axis": {"title": null, "values": [-3,-2,-1,0,1,2,3]}},
"y": {"field": "y", "type": "quantitative", "scale": {"domain": [-9.02, 4.04], "nice": false, "zero": false}, "axis": {"title": null, "values": [-8,-6,-4,-2,0,2,4], "labelExpr": "datum.value==-6 || datum.value==-2 ? '' : datum.label", "minExtent": 29, "maxExtent": 29}}},
"layer": [
{"data": {"name": "qf"}, "mark": {"type": "circle", "size": 80, "color": "#111111", "opacity": 1}},
{"data": {"values": [{"x": -4, "y": -2.79}, {"x": 4, "y": 2.95}]}, "mark": {"type": "line", "color": "#e8423c", "strokeDash": [7, 5], "strokeWidth": 2.2, "clip": true}, "encoding": {}}
]},
{"width": 226, "height": 130,
"encoding": {"x": {"field": "x", "type": "quantitative", "scale": {"domain": [-3.22, 3.22], "nice": false, "zero": false}, "axis": {"title": null, "values": [-3,-2,-1,0,1,2,3]}},
"y": {"field": "y", "type": "quantitative", "scale": {"domain": [-4.29, 2.48], "nice": false, "zero": false}, "axis": {"title": null, "values": [-4,-3,-2,-1,0,1,2], "labelExpr": "datum.value==-3 || datum.value==-1 ? '' : datum.label", "minExtent": 29, "maxExtent": 29}}},
"layer": [
{"data": {"name": "qg"}, "mark": {"type": "circle", "size": 80, "color": "#111111", "opacity": 1}},
{"data": {"values": [{"x": -4, "y": -3.03}, {"x": 4, "y": 2.93}]}, "mark": {"type": "line", "color": "#e8423c", "strokeDash": [7, 5], "strokeWidth": 2.2, "clip": true}, "encoding": {}}
]}
]}
],
"config": {
"view": {"stroke": "#4d4d4d", "strokeWidth": 1.4},
"axis": {"domain": false, "grid": false, "ticks": true, "tickSize": 5, "tickColor": "#4d4d4d", "tickWidth": 1.2, "labelFont": "Liberation Sans", "labelFontSize": 13.5, "labelColor": "#1a1a1a", "labelOverlap": false, "labelFlush": false},
"axisX": {"labelPadding": 6, "labelAngle": 0, "minExtent": 30, "maxExtent": 30},
"axisY": {"labelAngle": -90, "labelAlign": "center", "labelBaseline": "bottom", "labelPadding": 4},
"title": {"font": "Liberation Sans", "fontSize": 23, "fontWeight": "normal", "color": "#1a1a1a", "offset": 5, "baseline": "alphabetic", "anchor": "middle"}
}
}
